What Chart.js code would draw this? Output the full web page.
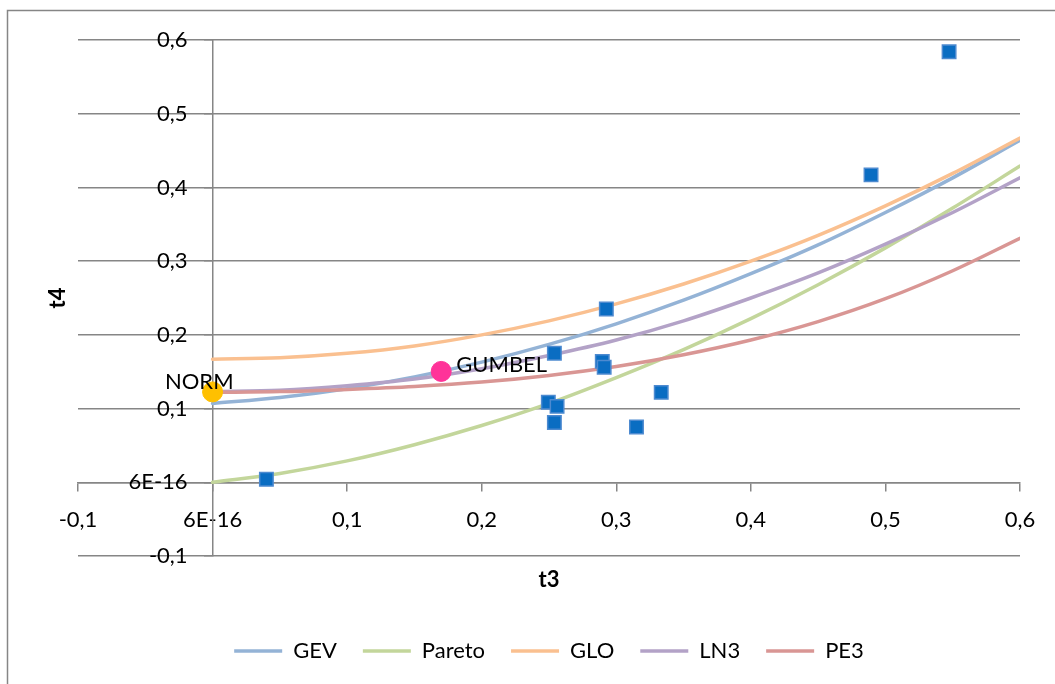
<!DOCTYPE html>
<html>
<head>
<meta charset="utf-8">
<script src="https://cdn.jsdelivr.net/npm/chart.js@4.4.1/dist/chart.umd.min.js"></script>
<style>
  body { margin: 0; background: #fff; }
  canvas { display: block; }
</style>
</head>
<body>
<canvas id="myChart" width="1055" height="684"></canvas>
<script>
// L-moment ratio diagram, t3 vs t4
var xTickLabels = ['-0,1', '6E-16', '0,1', '0,2', '0,3', '0,4', '0,5', '0,6'];
var yTickLabels = ['-0,1', '6E-16', '0,1', '0,2', '0,3', '0,4', '0,5', '0,6'];

// theoretical curves at these t3 values
var t3Grid = [0, 0.05, 0.1, 0.15, 0.2, 0.25, 0.3, 0.35, 0.4, 0.45, 0.5, 0.55, 0.6];
var gevT4 = [0.107, 0.115, 0.127, 0.143, 0.163, 0.187, 0.215, 0.247, 0.283, 0.322, 0.366, 0.413, 0.464];
var paretoT4 = [0, 0.012, 0.029, 0.051, 0.077, 0.107, 0.142, 0.180, 0.222, 0.268, 0.318, 0.372, 0.429];
var gloT4 = [0.167, 0.169, 0.175, 0.185, 0.2, 0.219, 0.242, 0.269, 0.3, 0.335, 0.375, 0.419, 0.467];
var ln3T4 = [0.123, 0.125, 0.131, 0.140, 0.154, 0.172, 0.193, 0.219, 0.250, 0.284, 0.323, 0.366, 0.413];
var pe3T4 = [0.122, 0.123, 0.126, 0.130, 0.136, 0.145, 0.157, 0.173, 0.193, 0.218, 0.249, 0.287, 0.331];

// sample stations
var sampleT3 = [0.040, 0.2495, 0.256, 0.254, 0.254, 0.2896, 0.291, 0.2926, 0.315, 0.3334, 0.4893, 0.5473];
var sampleT4 = [0.004, 0.1086, 0.103, 0.081, 0.175, 0.164, 0.156, 0.235, 0.075, 0.122, 0.417, 0.584];

// special points
var normPoint = [0, 0.1226];
var gumbelPoint = [0.1699, 0.1504];

function toXY(xs, ys) {
  return xs.map(function(x, i) { return {x: x, y: ys[i]}; });
}

function curve(label, ys, color, order) {
  return {
    label: label,
    data: toXY(t3Grid, ys),
    showLine: true,
    borderColor: color,
    backgroundColor: color,
    borderWidth: 3.5,
    borderCapStyle: 'round',
    pointRadius: 0,
    pointHoverRadius: 0,
    cubicInterpolationMode: 'monotone',
    pointStyle: 'line',
    order: order
  };
}

var FONT = 'Lato, "Noto Sans", sans-serif';
var gray = '#868686';

// outer frame, y label gap and point labels
var extras = {
  id: 'extras',
  beforeDraw: function(chart) {
    var ctx = chart.ctx;
    ctx.save();
    ctx.fillStyle = '#fff';
    ctx.fillRect(0, 0, chart.width, chart.height);
    ctx.strokeStyle = gray;
    ctx.lineWidth = 1.5;
    ctx.strokeRect(7.5, 10.5, chart.width + 20, chart.height + 20);
    ctx.restore();

    // the y labels sit against the crossing axis, move them off it
    var items = chart.scales.y.getLabelItems();
    items.forEach(function(it) {
      if (!it._moved) {
        it.options.translation[0] -= 25;
        it._moved = true;
      }
    });
  },
  afterDatasetsDraw: function(chart) {
    var ctx = chart.ctx;
    ctx.save();
    ctx.font = '22px ' + FONT;
    ctx.fillStyle = '#000';
    ctx.textBaseline = 'middle';
    var n = chart.getDatasetMeta(1).data[0];
    ctx.textAlign = 'right';
    ctx.fillText('NORM', n.x + 21, n.y - 10);
    var g = chart.getDatasetMeta(2).data[0];
    ctx.textAlign = 'left';
    ctx.fillText('GUMBEL', g.x + 15, g.y - 7);
    ctx.restore();
  }
};

var myChart = new Chart(document.getElementById('myChart').getContext('2d'), {
  type: 'scatter',
  data: {
    datasets: [
      {
        label: 'data',
        data: toXY(sampleT3, sampleT4),
        pointStyle: 'rect',
        pointRadius: 9.5,
        pointBackgroundColor: '#0A6DC2',
        pointBorderColor: '#4D8AD0',
        pointBorderWidth: 1.5,
        order: 0
      },
      {
        label: 'NORM',
        data: [{x: normPoint[0], y: normPoint[1]}],
        pointRadius: 10,
        pointBackgroundColor: '#FFC000',
        pointBorderColor: '#FFC000',
        order: 0
      },
      {
        label: 'GUMBEL',
        data: [{x: gumbelPoint[0], y: gumbelPoint[1]}],
        pointRadius: 10,
        pointBackgroundColor: '#FF3399',
        pointBorderColor: '#FF3399',
        order: 0
      },
      curve('GEV', gevT4, '#94B3D6', 5),
      curve('Pareto', paretoT4, '#C3D69B', 4),
      curve('GLO', gloT4, '#FAC090', 3),
      curve('LN3', ln3T4, '#B3A2C7', 2),
      curve('PE3', pe3T4, '#D99694', 1)
    ]
  },
  options: {
    responsive: false,
    animation: false,
    layout: { padding: { top: 40, right: 35, bottom: 12, left: 0 } },
    scales: {
      x: {
        type: 'linear',
        min: -0.1,
        max: 0.6,
        position: { y: 0 },
        grid: { drawOnChartArea: false, drawTicks: true, tickLength: 8, color: gray, lineWidth: 1.5 },
        border: { display: true, color: gray, width: 1.5 },
        ticks: {
          stepSize: 0.1,
          autoSkip: false,
          maxRotation: 0,
          padding: 16,
          color: '#000',
          font: { family: FONT, size: 22 },
          callback: function(value, index) { return xTickLabels[index]; }
        }
      },
      y: {
        type: 'linear',
        min: -0.1,
        max: 0.6,
        position: { x: 0 },
        grid: { drawOnChartArea: true, drawTicks: true, tickLength: 8, color: gray, lineWidth: 1.5 },
        border: { display: true, color: gray, width: 1.5 },
        ticks: {
          stepSize: 0.1,
          autoSkip: false,
          padding: 17,
          color: '#000',
          font: { family: FONT, size: 22 },
          callback: function(value, index) { return yTickLabels[index]; }
        }
      }
    },
    plugins: {
      tooltip: { enabled: false },
      title: {
        display: true,
        text: 't3',
        position: 'bottom',
        weight: 500,
        fullSize: false,
        color: '#000',
        font: { family: FONT, size: 22, weight: 'bold' },
        padding: { top: 10.8, bottom: 20.8 }
      },
      subtitle: {
        display: true,
        text: 't4',
        position: 'left',
        fullSize: false,
        color: '#000',
        font: { family: FONT, size: 22, weight: 'bold' },
        padding: { top: 44.8, bottom: 6.8 }
      },
      legend: {
        position: 'bottom',
        fullSize: false,
        labels: {
          usePointStyle: true,
          pointStyleWidth: 48,
          padding: 26,
          color: '#000',
          font: { family: FONT, size: 22 },
          filter: function(item) { return item.datasetIndex >= 3; },
          sort: function(a, b) { return a.datasetIndex - b.datasetIndex; }
        }
      }
    }
  },
  plugins: [extras]
});
</script>
</body>
</html>
